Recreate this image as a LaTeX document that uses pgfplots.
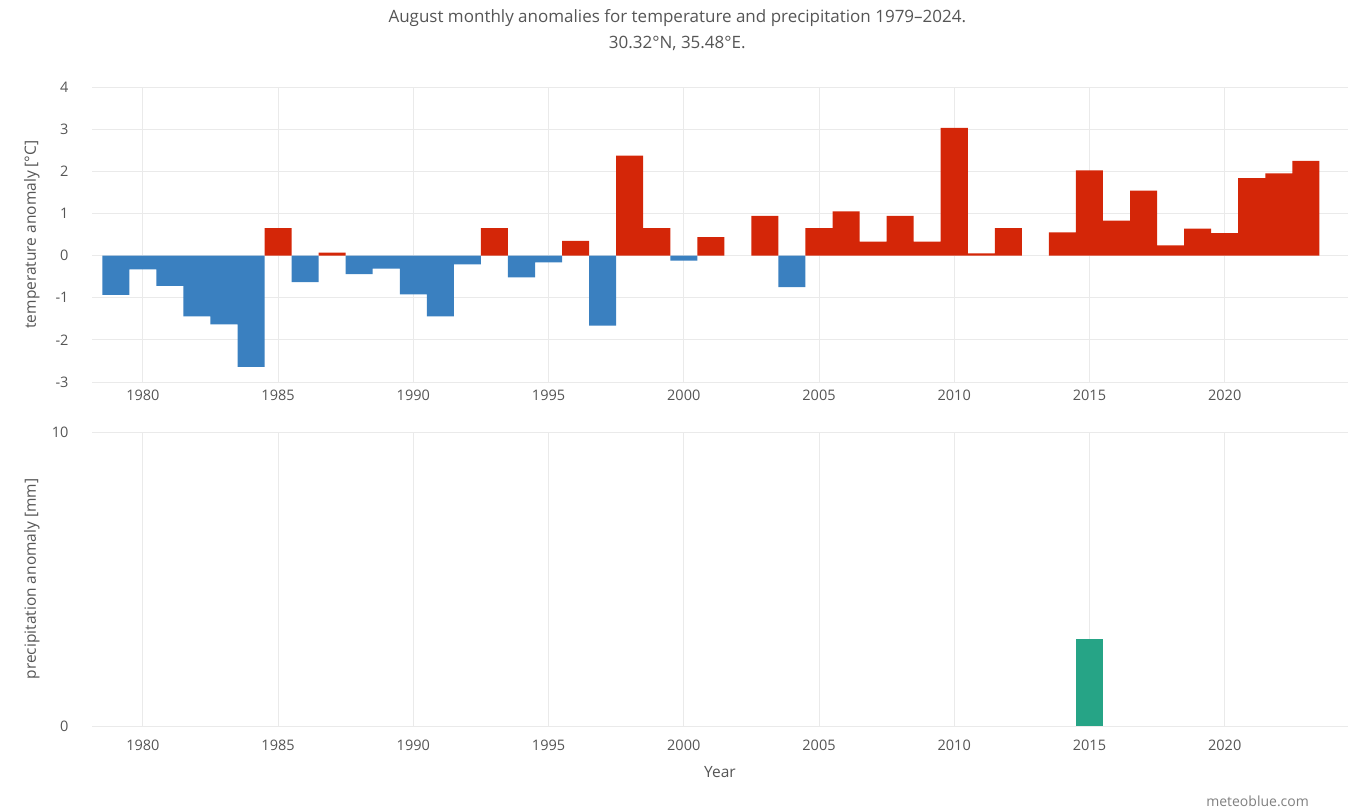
\documentclass[border=0pt]{standalone}
\usepackage{fontspec}
\setmainfont{Open Sans}
\usepackage{pgfplots}
\pgfplotsset{compat=1.18}

\definecolor{tempneg}{RGB}{58,128,192}
\definecolor{temppos}{RGB}{212,38,8}
\definecolor{precip}{RGB}{38,164,134}
\definecolor{txt}{RGB}{85,85,85}
\definecolor{gridc}{RGB}{234,234,234}

\pgfplotsset{
  anomaly/.style={
    scale only axis, width=1256pt, anchor=south west,
    xmin=1978.12, xmax=2024.56,
    axis line style={draw=none},
    major tick length=0pt,
    xtick={1980,1985,...,2020},
    /pgf/number format/1000 sep={},
    /pgf/number format/assume math mode=true,
    grid=major, major grid style={gridc, line width=0.8pt},
    tick label style={font=\fontsize{14.5}{16}\selectfont, text=txt},
    yticklabel style={xshift=-20pt},
    label style={font=\fontsize{15.5}{17}\selectfont, text=txt},
    ylabel style={at={(axis description cs:-0.0478,0.5)}, anchor=center},
    clip=false,
  },
  tbar/.style={ybar, bar width=1, bar shift=0pt, draw=none, fill=#1},
}

\begin{document}
\begin{tikzpicture}
\path[use as bounding box] (0,0) rectangle (1370pt,809pt);

% temperature anomaly per year (August)
\begin{axis}[anomaly,
    at={(92pt,427pt)}, height=295pt,
    ymin=-3, ymax=4, ytick={-3,...,4},
    xticklabel style={yshift=-4pt},
    ylabel={temperature anomaly [°C]},
    title={August monthly anomalies for temperature and precipitation 1979–2024.\\[7pt]30.32°N, 35.48°E.},
    title style={at={(axis description cs:0.466,1.173)}, anchor=center, align=center,
      font=\fontsize{17}{19}\selectfont, text=txt},
  ]
  \addplot[tbar=tempneg] coordinates {
    (1979,-0.93) (1980,-0.33) (1981,-0.72) (1982,-1.44) (1983,-1.63)
    (1984,-2.64) (1986,-0.63) (1988,-0.44) (1989,-0.31) (1990,-0.92)
    (1991,-1.44) (1992,-0.21) (1994,-0.52) (1995,-0.16) (1997,-1.66)
    (2000,-0.12) (2004,-0.75)
  };
  \addplot[tbar=temppos] coordinates {
    (1985,0.65) (1987,0.07) (1993,0.65) (1996,0.35) (1998,2.37)
    (1999,0.65) (2001,0.44) (2003,0.94) (2005,0.65) (2006,1.05)
    (2007,0.33) (2008,0.94) (2009,0.33) (2010,3.03) (2011,0.05)
    (2012,0.65) (2014,0.55) (2015,2.02) (2016,0.83) (2017,1.54)
    (2018,0.24) (2019,0.64) (2020,0.53) (2021,1.84) (2022,1.95)
    (2023,2.25)
  };
\end{axis}

% precipitation anomaly per year (August)
\begin{axis}[anomaly,
    at={(92pt,83pt)}, height=294pt,
    ymin=0, ymax=10, ytick={0,10},
    xticklabel style={yshift=-10pt},
    ylabel={precipitation anomaly [mm]},
    xlabel={Year},
    xlabel style={at={(axis description cs:0.5,-0.156)}, anchor=center},
  ]
  \addplot[tbar=precip] coordinates {(2015,2.95)};
  \node[font=\fontsize{14}{16}\selectfont, text=txt!75] at (axis description cs:0.928,-0.255) {meteoblue.com};
\end{axis}
\end{tikzpicture}
\end{document}
